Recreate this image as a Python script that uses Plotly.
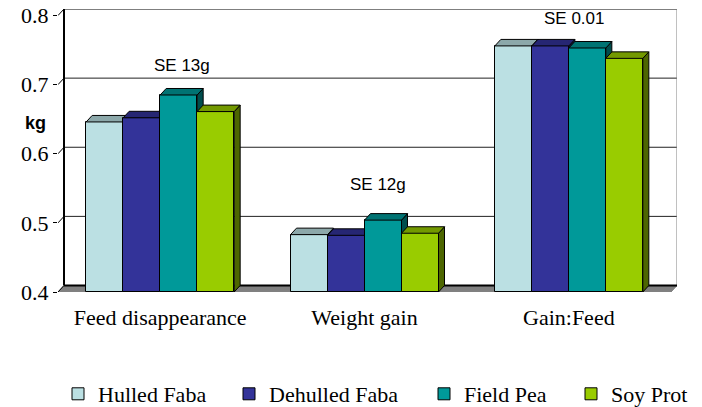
import plotly.graph_objects as go

# ---------------- data ----------------
categories = ["Feed disappearance", "Weight gain", "Gain:Feed"]
series_names = ["Hulled Faba", "Dehulled Faba", "Field Pea", "Soy Prot"]
hulled_faba = [0.646, 0.483, 0.756]
dehulled_faba = [0.652, 0.482, 0.756]
field_pea = [0.685, 0.504, 0.753]
soy_prot = [0.661, 0.485, 0.738]
y_ticks = [0.4, 0.5, 0.6, 0.7, 0.8]
se_labels = ["SE 13g", "SE 12g", "SE 0.01"]

# ---------------- styling ----------------
front_colors = ["#BBE0E3", "#333399", "#009999", "#99CC00"]
top_colors = ["#8CA8AA", "#262673", "#007373", "#739900"]
side_colors = ["#5E7072", "#1A1A4D", "#004D4D", "#4D6600"]
SERIF = "Times New Roman, Liberation Serif, serif"
SANS = "Arial, Liberation Sans, sans-serif"

# page body has an 8px margin, so the figure starts 8px in from the window corner
W, H = 702, 399
L, R, T, B = 50, 33, 1, 115
plot_w = W - L - R
plot_h = H - T - B
Y0, Y1 = 0.4, 0.8
DX_PX, DY_PX = 6, 6.5
px_x = (plot_w - DX_PX) / 3.0
DX = DX_PX / px_x
px_y = (plot_h - DY_PX) / (Y1 - Y0)
DY = DY_PX / px_y
BW = 37 / px_x  # bar width in category units
legend_x_px = [0, 171, 366, 513]  # legend entry offsets from plot left (px)

all_series = [hulled_faba, dehulled_faba, field_pea, soy_prot]

fig = go.Figure()


def ax(i, kind):
    return kind if i == 0 else f"{kind}{i + 1}"


def lg(i):
    return "legend" if i == 0 else f"legend{i + 1}"


for i, (name, vals) in enumerate(zip(series_names, all_series)):
    xa, ya = ax(i, "x"), ax(i, "y")
    xs = [c + (i - 1.5) * BW for c in range(len(categories))]
    fig.add_trace(go.Bar(
        x=xs, y=[v - Y0 for v in vals], base=Y0, width=BW, name=name,
        marker=dict(color=front_colors[i], line=dict(color="black", width=1)),
        xaxis=xa, yaxis=ya, hoverinfo="skip", legend=lg(i),
    ))
    tx, ty = [], []
    sx, sy = [], []
    for xc, v in zip(xs, vals):
        x0, x1 = xc - BW / 2, xc + BW / 2
        tx += [x0, x0 + DX, x1 + DX, x1, x0, None]
        ty += [v, v + DY, v + DY, v, v, None]
        sx += [x1, x1 + DX, x1 + DX, x1, x1, None]
        sy += [v, v + DY, Y0 + DY, Y0, v, None]
    fig.add_trace(go.Scatter(
        x=sx, y=sy, fill="toself", fillcolor=side_colors[i], mode="lines",
        line=dict(color="black", width=1), showlegend=False, hoverinfo="skip",
        xaxis=xa, yaxis=ya,
    ))
    fig.add_trace(go.Scatter(
        x=tx, y=ty, fill="toself", fillcolor=top_colors[i], mode="lines",
        line=dict(color="black", width=1), showlegend=False, hoverinfo="skip",
        xaxis=xa, yaxis=ya,
    ))

xmin, xmax = -0.5, len(categories) - 0.5
x_range = [xmin, xmax + DX]
y_range = [Y0, Y1 + DY]

shapes = []
shapes.append(dict(type="path", xref="x", yref="y", layer="below",
                   path=f"M{xmin},{Y0} L{xmax},{Y0} L{xmax + DX},{Y0 + DY} L{xmin + DX},{Y0 + DY} Z",
                   fillcolor="#808080", line=dict(color="#808080", width=1)))
for t in y_ticks[1:-1]:
    shapes.append(dict(type="line", xref="x", yref="y", layer="below",
                       x0=xmin + DX, x1=xmax + DX, y0=t + DY, y1=t + DY,
                       line=dict(color="#222222", width=1)))
shapes.append(dict(type="line", xref="x", yref="y", layer="below",
                   x0=xmin + DX, x1=xmax + DX, y0=Y1 + DY, y1=Y1 + DY,
                   line=dict(color="black", width=1)))
shapes.append(dict(type="line", xref="x", yref="y", layer="below",
                   x0=xmax + DX, x1=xmax + DX, y0=Y0 + DY, y1=Y1 + DY,
                   line=dict(color="#808080", width=1)))
shapes.append(dict(type="line", xref="x", yref="y", layer="below",
                   x0=xmin + DX, x1=xmax + DX, y0=Y0 + DY, y1=Y0 + DY,
                   line=dict(color="black", width=2)))
shapes.append(dict(type="line", xref="x", yref="y", layer="below",
                   x0=xmin + DX, x1=xmin + DX, y0=Y0 + DY, y1=Y1 + DY,
                   line=dict(color="black", width=2)))
for t in y_ticks:
    shapes.append(dict(type="line", xref="x", yref="y", layer="below",
                       x0=xmin, x1=xmin + DX, y0=t, y1=t + DY,
                       line=dict(color="black", width=1)))
for k in range(len(categories) + 1):
    shapes.append(dict(type="line", xref="x", yref="y", ysizemode="pixel", yanchor=Y0,
                       x0=xmin + k, x1=xmin + k, y0=0, y1=-5,
                       line=dict(color="#555555", width=1)))

annotations = []
se_pos = [(0.107, 0.728), (1.066, 0.555), (2.03, 0.796)]
for txt, (xx, yy) in zip(se_labels, se_pos):
    annotations.append(dict(x=xx, y=yy, xref="x", yref="y", text=txt, showarrow=False,
                            font=dict(family=SANS, size=17, color="black")))
annotations.append(dict(xref="paper", x=-23 / plot_w, y=0.644, yref="y", text="<b>kg</b>",
                        showarrow=False, xanchor="center",
                        font=dict(family=SANS, size=18, color="black")))

layout = dict(
    width=W, height=H,
    margin=dict(l=L, r=R, t=T, b=B, autoexpand=False),
    paper_bgcolor="white", plot_bgcolor="rgba(0,0,0,0)",
    showlegend=True,
    shapes=shapes, annotations=annotations,
    xaxis=dict(range=x_range, tickmode="array", tickvals=list(range(len(categories))),
               ticktext=categories, ticks="", showgrid=False, zeroline=False, showline=False,
               ticklabelstandoff=10, automargin=False,
               tickfont=dict(family=SERIF, size=22, color="black")),
    yaxis=dict(range=y_range, tickmode="array", tickvals=y_ticks,
               ticktext=[f"{t:.1f}" for t in y_ticks], ticks="outside", ticklen=4,
               tickcolor="black", showgrid=False, zeroline=False, showline=False,
               automargin=False, ticklabeloverflow="allow",
               tickfont=dict(family=SERIF, size=22, color="black")),
    bargap=0, barmode="overlay",
)
for i in range(len(all_series)):
    layout[lg(i)] = dict(orientation="h", x=legend_x_px[i] / plot_w, xanchor="left",
                         y=-102 / plot_h, yanchor="middle", bgcolor="rgba(0,0,0,0)",
                         font=dict(family=SERIF, size=22, color="black"))
for i in range(1, len(all_series)):
    layout[f"xaxis{i + 1}"] = dict(overlaying="x", matches="x", range=x_range, visible=False)
    layout[f"yaxis{i + 1}"] = dict(overlaying="y", matches="y", range=y_range, visible=False)

fig.update_layout(**layout)
fig.write_html("out.html")
